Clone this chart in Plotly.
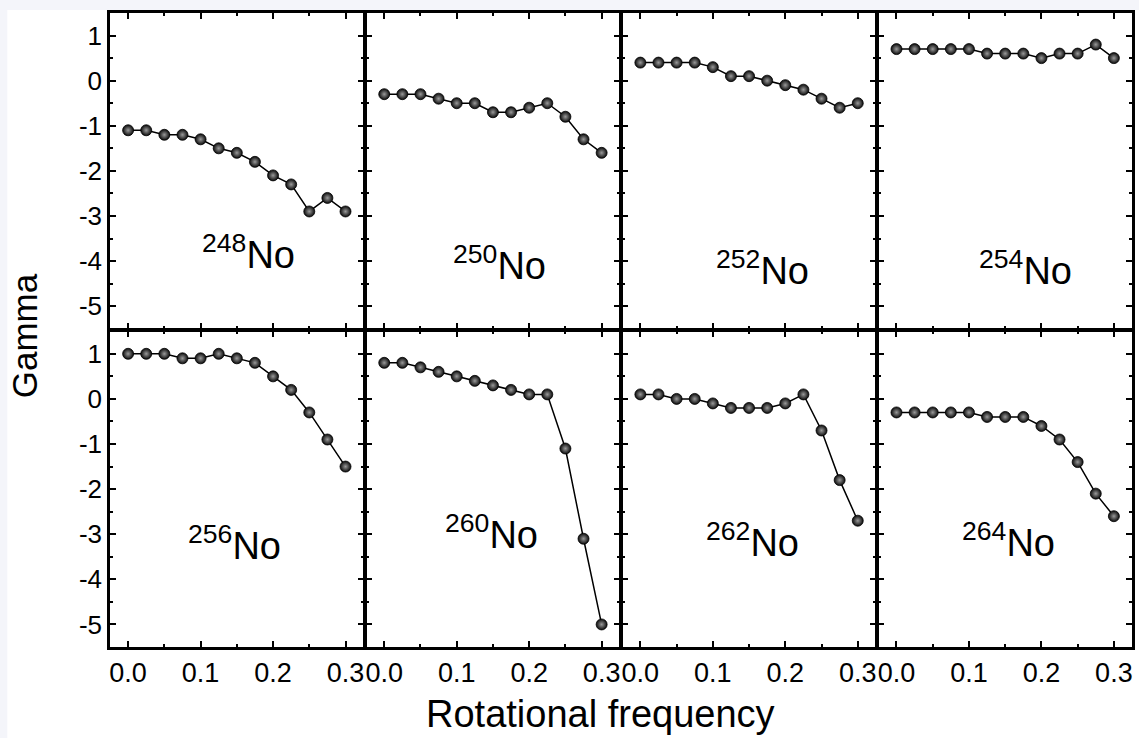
import plotly.graph_objects as go
from plotly.subplots import make_subplots

# Rotational frequency points (shared by all panels)
freq = [0.0, 0.025, 0.05, 0.075, 0.1, 0.125, 0.15, 0.175, 0.2, 0.225, 0.25, 0.275, 0.3]

# Gamma values per nucleus
g248 = [-1.1, -1.1, -1.2, -1.2, -1.3, -1.5, -1.6, -1.8, -2.1, -2.3, -2.9, -2.6, -2.9]
g250 = [-0.3, -0.3, -0.3, -0.4, -0.5, -0.5, -0.7, -0.7, -0.6, -0.5, -0.8, -1.3, -1.6]
g252 = [0.4, 0.4, 0.4, 0.4, 0.3, 0.1, 0.1, 0.0, -0.1, -0.2, -0.4, -0.6, -0.5]
g254 = [0.7, 0.7, 0.7, 0.7, 0.7, 0.6, 0.6, 0.6, 0.5, 0.6, 0.6, 0.8, 0.5]
g256 = [1.0, 1.0, 1.0, 0.9, 0.9, 1.0, 0.9, 0.8, 0.5, 0.2, -0.3, -0.9, -1.5]
g260 = [0.8, 0.8, 0.7, 0.6, 0.5, 0.4, 0.3, 0.2, 0.1, 0.1, -1.1, -3.1, -5.0]
g262 = [0.1, 0.1, 0.0, 0.0, -0.1, -0.2, -0.2, -0.2, -0.1, 0.1, -0.7, -1.8, -2.7]
g264 = [-0.3, -0.3, -0.3, -0.3, -0.3, -0.4, -0.4, -0.4, -0.6, -0.9, -1.4, -2.1, -2.6]

mass_numbers = ["248", "250", "252", "254", "256", "260", "262", "264"]
series = [g248, g250, g252, g254, g256, g260, g262, g264]

# label anchor positions (data coords within each panel)
label_x = [0.166, 0.159, 0.168, 0.178, 0.147, 0.148, 0.155, 0.155]
label_y = [-3.8, -4.05, -4.15, -4.15, -3.2, -2.95, -3.12, -3.12]

x_ticks = [0.0, 0.1, 0.2, 0.3]
y_ticks = [1, 0, -1, -2, -3, -4, -5]

FONT = "Liberation Sans"
LW = 2.5

fig = make_subplots(rows=2, cols=4,
                    horizontal_spacing=LW / 1025, vertical_spacing=LW / 634)

for i, (mass, vals) in enumerate(zip(mass_numbers, series)):
    r = i // 4 + 1
    c = i % 4 + 1
    fig.add_trace(
        go.Scatter(
            x=freq, y=vals, mode="lines+markers",
            line=dict(color="black", width=1.5),
            marker=dict(size=11, color="#0a0a0a",
                        gradient=dict(type="radial", color="#9a9a9a"),
                        line=dict(color="black", width=0.8)),
            showlegend=False,
        ),
        row=r, col=c,
    )
    idx = "" if i == 0 else str(i + 1)
    fig.add_annotation(
        x=label_x[i], y=label_y[i], xref="x" + idx, yref="y" + idx,
        text="<sup>" + mass + "</sup>No", showarrow=False,
        font=dict(family=FONT, size=38, color="black"),
        xanchor="center", yanchor="middle",
    )

axis_common = dict(
    showline=True, linecolor="black", linewidth=LW, mirror="allticks",
    ticks="inside", ticklen=6, tickwidth=2, tickcolor="black",
    showgrid=False, zeroline=False,
)

xaxis_font = dict(family=FONT, size=27, color="black")
yaxis_font = dict(family=FONT, size=26, color="black")

for i in range(8):
    r = i // 4 + 1
    c = i % 4 + 1
    fig.update_xaxes(
        range=[-0.025, 0.325], tickvals=x_ticks, ticktext=[f"{v:.1f}" for v in x_ticks],
        showticklabels=(r == 2),
        minor=dict(ticks="inside", dtick=0.05, tick0=0, ticklen=3, tickwidth=2, tickcolor="black"),
        row=r, col=c, **axis_common,
    )
    fig.update_yaxes(
        range=[-5.5, 1.5], tickvals=y_ticks, ticktext=[str(v) for v in y_ticks],
        showticklabels=(c == 1),
        minor=dict(ticks="inside", dtick=0.5, tick0=0, ticklen=3, tickwidth=2, tickcolor="black"),
        row=r, col=c, **axis_common,
    )

# explicit tick fonts on every axis
for k in range(1, 9):
    suffix = "" if k == 1 else str(k)
    fig.layout["xaxis" + suffix].tickfont = xaxis_font
    fig.layout["yaxis" + suffix].tickfont = yaxis_font

# axis titles
fig.add_annotation(
    x=-0.0839, y=0.4905, xref="paper", yref="paper", text="Gamma",
    textangle=-90, showarrow=False, xanchor="center", yanchor="middle",
    font=dict(family=FONT, size=35, color="black"),
)
fig.add_annotation(
    x=0.48, y=-0.1057, xref="paper", yref="paper", text="Rotational frequency",
    showarrow=False, xanchor="center", yanchor="middle",
    font=dict(family=FONT, size=38, color="black"),
)

# white canvas inside a thin light border
fig.add_shape(
    type="rect", xref="paper", yref="paper",
    x0=-0.1005, x1=1.01, y0=-0.16, y1=1.0047,
    fillcolor="white", line=dict(width=0), layer="below",
)

fig.update_layout(
    width=1139, height=738,
    margin=dict(l=110, r=4, t=13, b=91),
    paper_bgcolor="#f4f5fa", plot_bgcolor="white",
    font=dict(family=FONT, color="black", size=23),
)

fig.write_html("out.html")
